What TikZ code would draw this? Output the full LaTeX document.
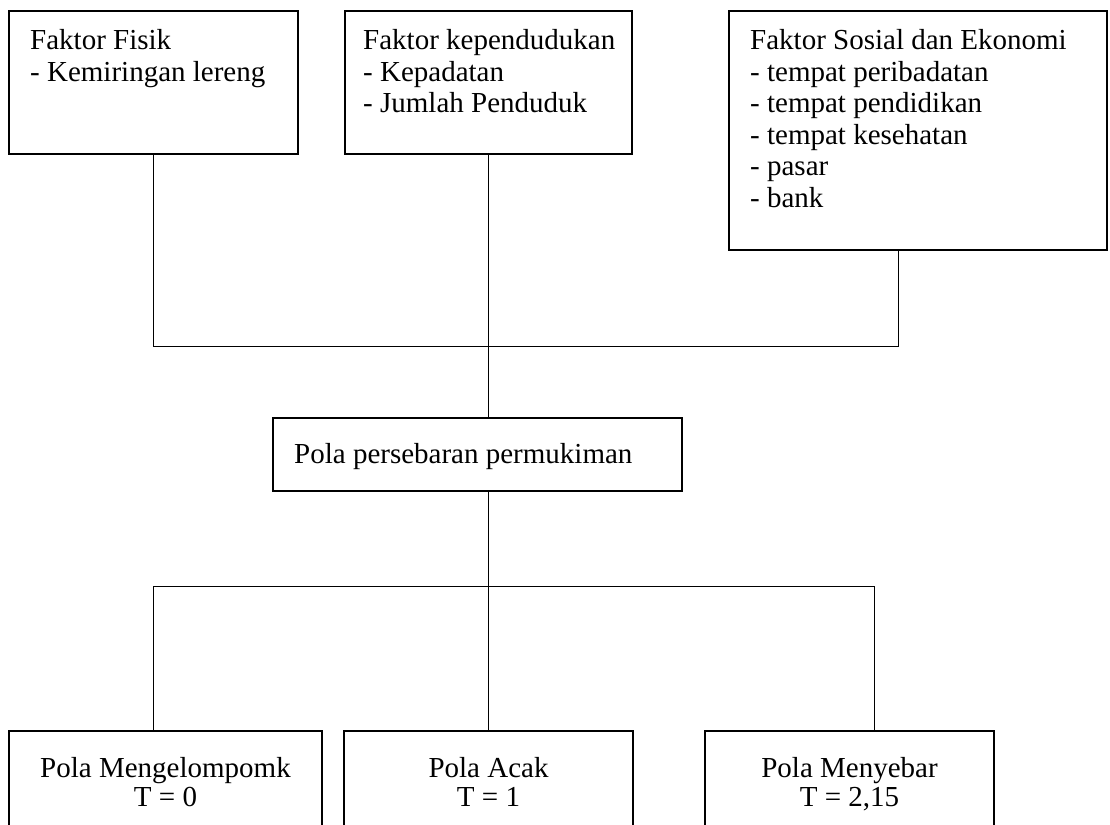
\documentclass[tikz,border=0pt]{standalone}
\usepackage{fontspec}
\setmainfont{Liberation Serif}
\usetikzlibrary{calc}
\begin{document}
\begin{tikzpicture}[x=1pt,y=-1pt,
  box/.style={draw=black,line width=1.6pt,rectangle,inner sep=0pt,fill=none},
  txt/.style={inner sep=0pt,align=left,font=\fontsize{29}{31.5}\selectfont},
  ctxt/.style={inner sep=0pt,align=center,font=\fontsize{29}{29}\selectfont},
  conn/.style={draw=black,line width=1.6pt}]
\useasboundingbox (0,0) rectangle (1110,824);
\clip (0,0) rectangle (1110,824);
\fill[white] (0,0) rectangle (1110,824);
% top boxes
\node[box,minimum width=289pt,minimum height=143pt] (f1) at (153.5,82.5) {};
\node[box,minimum width=287pt,minimum height=143pt] (f2) at (488.5,82.5) {};
\node[box,minimum width=378pt,minimum height=239pt] (f3) at (918,130.5) {};
\node[txt,anchor=north west] (t1) at (30,29.2) {Faktor Fisik\\- Kemiringan lereng};
\node[txt,anchor=north west] (t2) at (363,29.2) {Faktor kependudukan\\- Kepadatan\\- Jumlah Penduduk};
\node[txt,anchor=north west] (t3) at (750,29.2) {Faktor Sosial dan Ekonomi\\- tempat peribadatan\\- tempat pendidikan\\- tempat kesehatan\\- pasar\\- bank};
% middle box
\node[box,minimum width=409pt,minimum height=73pt] (p) at (477.5,454.5) {};
\node[txt,anchor=north west] (pt) at (294,443.5) {Pola persebaran permukiman};
% bottom boxes
\node[box,minimum width=313pt,minimum height=119pt] (b1) at (165.5,790.5) {};
\node[box,minimum width=289pt,minimum height=119pt] (b2) at (488.5,790.5) {};
\node[box,minimum width=289pt,minimum height=119pt] (b3) at (849.5,790.5) {};
\node[ctxt,anchor=north] (bt1) at (165.5,757.2) {Pola Mengelompomk\\T = 0};
\node[ctxt,anchor=north] (bt2) at (488.5,757.2) {Pola Acak\\T = 1};
\node[ctxt,anchor=north] (bt3) at (849.5,757.2) {Pola Menyebar\\T = 2,15};
% junction coordinates
\coordinate (s3) at (898.5,250);
\coordinate (hL) at (153.5,346.5);
\coordinate (hM) at (488.5,346.5);
\coordinate (hR) at (898.5,346.5);
\coordinate (pTop) at (488.5,418);
\coordinate (pBot) at (488.5,491);
\coordinate (lL) at (153.5,586.5);
\coordinate (lM) at (488.5,586.5);
\coordinate (lR) at (874.5,586.5);
\coordinate (c1) at (153.5,731);
\coordinate (c3) at (874.5,731);
% connectors
\draw[conn] (f1.south) -- (hL) -- (hR) -- (s3);
\draw[conn] (f2.south) -- (hM) -- (pTop);
\draw[conn] (pBot) -- (lM);
\draw[conn] (c1) -- (lL) -- (lR) -- (c3);
\draw[conn] (lM) -- (b2.north);
\end{tikzpicture}
\end{document}
